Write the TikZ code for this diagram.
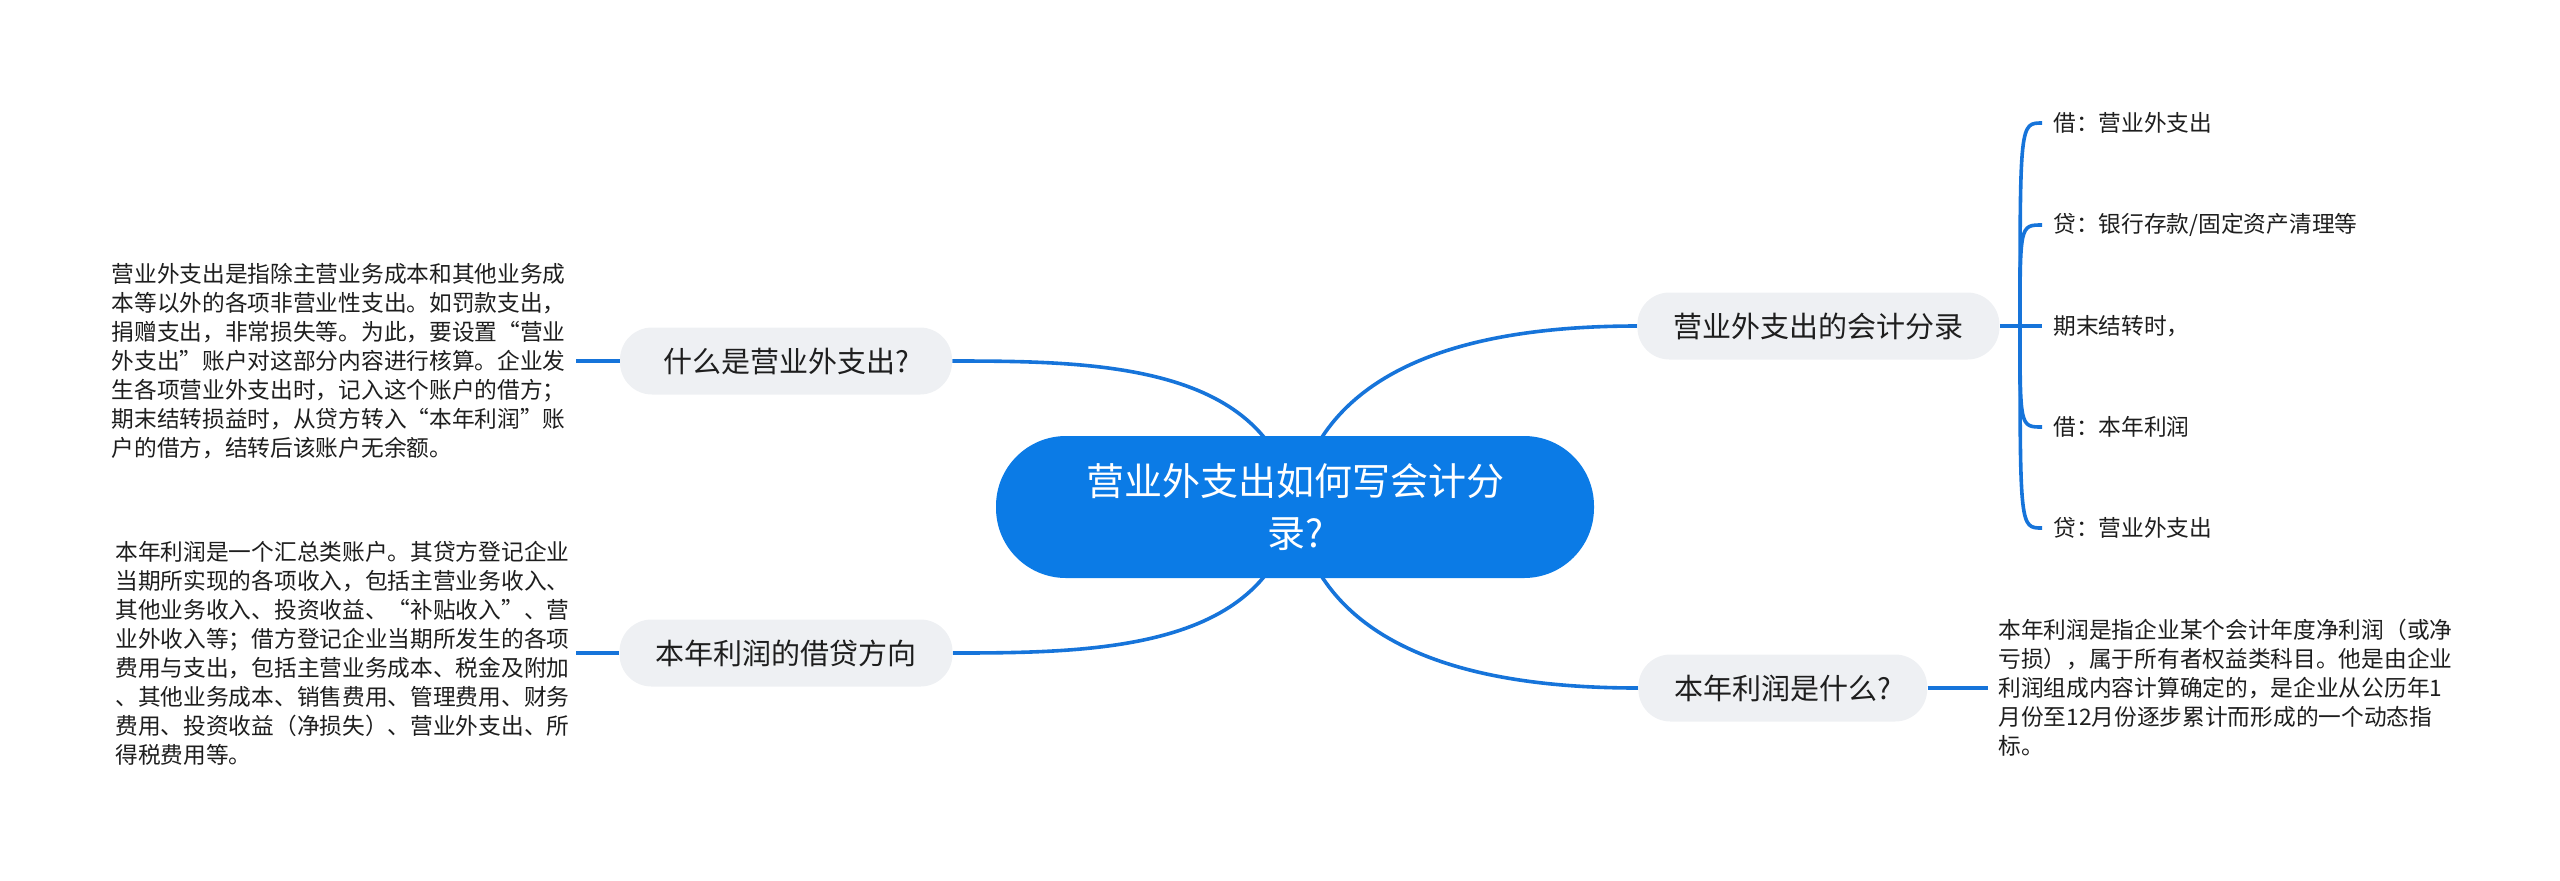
\documentclass[tikz,border=0pt]{standalone}
\usepackage{fontspec}
\setmainfont{Noto Sans CJK SC}
\usetikzlibrary{positioning}
\usetikzlibrary{backgrounds}
\definecolor{rootblue}{HTML}{0B7BE6}
\definecolor{topicgray}{HTML}{EEF0F3}
\definecolor{linkblue}{HTML}{1674DA}
\definecolor{inkgray}{HTML}{1E1E1E}
\tikzset{root/.style = {fill = rootblue, text = white, align = center, rounded corners = 35pt, minimum width = 299pt, minimum height = 71pt, font = \fontsize{19pt}{26pt}\selectfont}}
\tikzset{topic/.style = {fill = topicgray, text = inkgray, rounded corners = 16pt, minimum height = 33.5pt, inner xsep = 18pt, font = \fontsize{14.5pt}{17pt}\selectfont}}
\tikzset{leaf/.style = {anchor = west, text = inkgray, inner xsep = 5.5pt, inner ysep = 0, font = \fontsize{11.35pt}{14.5pt}\selectfont}}
\tikzset{note/.style = {text = inkgray, align = left, inner xsep = 5pt, inner ysep = 0, font = \fontsize{11.35pt}{14.5pt}\selectfont}}
\tikzset{link/.style = {draw = linkblue, line width = 1.8pt}}

\begin{document}
\begin{tikzpicture}[x = 0.5pt, y = -0.5pt]
      \useasboundingbox (0, 0) rectangle (2560, 880);
      \node [root] (root) at (1295, 507) {营业外支出如何写会计分\\录?};
      \node [topic, minimum width = 166pt] (q1) at (786, 361) {什么是营业外支出?};
      \node [topic] (q3) at (786, 653) {本年利润的借贷方向};
      \node [topic, anchor = west] (q2) at (1637, 326) {营业外支出的会计分录};
      \node [topic, anchor = west] (q4) at (1638, 688) {本年利润是什么?};
      \node [note, anchor = east] (p1) at (576, 361) {营业外支出是指除主营业务成本和其他业务成\\本等以外的各项非营业性支出。如罚款支出，\\捐赠支出，非常损失等。为此，要设置“营业\\外支出”账户对这部分内容进行核算。企业发\\生各项营业外支出时，记入这个账户的借方；\\期末结转损益时，从贷方转入“本年利润”账\\户的借方，结转后该账户无余额。};
      \node [note, anchor = west] (p2) at (105, 653) {本年利润是一个汇总类账户。其贷方登记企业\\当期所实现的各项收入，包括主营业务收入、\\其他业务收入、投资收益、“补贴收入”、营\\业外收入等；借方登记企业当期所发生的各项\\费用与支出，包括主营业务成本、税金及附加\\、其他业务成本、销售费用、管理费用、财务\\费用、投资收益（净损失）、营业外支出、所\\得税费用等。};
      \node [note, anchor = west] (p3) at (1988, 688) {本年利润是指企业某个会计年度净利润（或净\\亏损），属于所有者权益类科目。他是由企业\\利润组成内容计算确定的，是企业从公历年1\\月份至12月份逐步累计而形成的一个动态指\\标。};
      \foreach \n/\y/\t in {l1/123/{借：营业外支出}, l2/225/{贷：银行存款/固定资产清理等}, l3/326/{期末结转时，}, l4/427/{借：本年利润}, l5/528/{贷：营业外支出}} {
        \node [leaf] (\n) at (2042, \y) {\t};
      }
      \coordinate (j) at (2020, 326);
      \begin{scope}[on background layer]
        \draw [link] (root.center) to [out = 100, in = 0] (q1.east);
        \draw [link] (root.center) to [out = 80, in = 180] (q2.west);
        \draw [link] (root.center) to [out = -100, in = 0] (q3.east);
        \draw [link] (root.center) to [out = -80, in = 180] (q4.west);
      \end{scope}
      \draw [link] (p1.east) -- (q1.west);
      \draw [link] (p2.east -| p1.east) -- (q3.west);
      \draw [link] (q4.east) -- (p3.west);
      \draw [link] (q2.east) -- (l3.west);
      \foreach \n in {l1, l2, l4, l5} {
        \draw [link] (j) .. controls (j |- \n.west) .. (\n.west);
      }
    \end{tikzpicture}
\end{document}
